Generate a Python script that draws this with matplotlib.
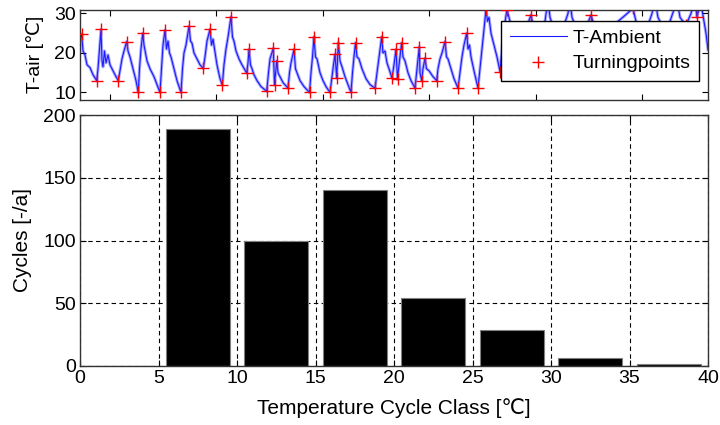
import matplotlib
matplotlib.use("Agg")
import matplotlib.pyplot as plt
import numpy as np

plt.rcParams["font.family"] = ["Liberation Sans", "DejaVu Sans"]

# --- Top panel: ambient temperature series (time in h) ---
time_h = [
    0, 1.7, 3, 5, 7, 10, 13, 16.7,
    18, 19.5, 21, 22, 23, 24.5, 26, 28, 30, 33, 36, 38.3,
    40, 42, 44, 46.7, 48, 50, 53, 56, 58.3,
    59.5, 61, 62.7, 64, 65.5, 67, 70, 74, 77, 80,
    81.5, 83, 85, 86.5, 88, 89.5, 91, 94, 97, 101,
    102.5, 104, 106, 109, 110.5, 112, 114, 117, 120, 123.3,
    125, 127, 130, 131.5, 133, 134.5, 137, 140, 142.3,
    144, 146, 148, 151, 152.5, 154, 156, 159, 162, 166.7,
    168, 169, 170.5, 172, 174, 177, 181, 186.7,
    188.5, 190, 193.3, 194.5, 196.7, 198, 200, 203, 208,
    209.5, 211, 214, 215.5, 217, 220, 224, 229.5,
    231, 232.5, 234, 235.5, 237, 240, 243, 246, 250,
    252, 253.5, 255, 256.7, 258.3, 260, 262, 265, 268, 271,
    272.5, 274, 275.5, 277, 279, 282, 286, 290, 295,
    297, 299, 301.7, 303, 305, 307, 309, 312,
    314, 316, 317.5, 319, 321.7, 323, 325, 328, 331, 335,
    337, 339.3, 340, 341.7, 343, 345, 346.5, 349, 353, 356.7,
    358, 360, 362, 365, 366.5, 368, 371, 374, 378,
    380, 382, 384, 386.7, 388, 389.5, 391, 394, 398,
    400, 402, 404, 406, 407.5, 409, 411, 414, 417, 420,
    423, 426, 427, 429, 432, 436, 440, 444, 448, 451, 453, 457, 461,
    465, 468, 470, 474, 479, 484, 488, 490, 492, 497, 502, 507, 511,
    514, 520, 526, 532, 538, 545, 553, 556, 562, 568, 572, 575, 578,
    584, 590, 594, 597, 600, 606, 611, 615, 617, 620, 622, 624, 626, 628,
]
t_air = [
    23.5, 24.8, 20.5, 19.5, 17.0, 16.3, 14.5, 13.0,
    16, 21, 26.0, 18, 16.5, 20.5, 17.5, 19.5, 17, 15.5, 14, 13.0,
    15.5, 18.5, 20.5, 22.9, 20.5, 19, 16, 13, 10.0,
    16, 21, 25.0, 22, 20, 18, 16, 14, 12, 10.0,
    16, 22, 25.8, 21, 23, 20, 19, 16, 13, 10.0,
    16, 20, 22, 26.8, 23, 22.5, 20, 18.5, 17, 16.1,
    19, 23, 26.0, 22, 23.5, 21, 17, 13.5, 11.9,
    17, 21, 24, 29.2, 24, 23, 20.5, 18.5, 17, 14.9,
    17.5, 20.9, 17, 16, 14.5, 13, 11.5, 10.3,
    15, 18.5, 21.2, 11.9, 18.0, 15, 14, 12.5, 11.1,
    15, 17.5, 20.9, 16, 15, 13, 11.5, 10.0,
    15, 19, 24.1, 19, 18.5, 15, 13, 11.5, 10.0,
    14, 17, 19.7, 13.6, 22.6, 18, 16.5, 14, 12, 10.0,
    15, 19, 22.6, 19, 18.5, 16, 13.5, 12, 11.1,
    15, 19, 24.1, 20, 20.5, 17.5, 16, 13.6,
    17, 20.9, 13.3, 17, 22.6, 19, 18, 15, 13, 11.1,
    16, 21.6, 15, 13.0, 16, 18.7, 16, 15.5, 14, 13.0,
    16, 18.5, 20, 22.9, 19, 18.5, 16, 13.5, 11.1,
    15, 19, 22, 25.0, 21, 22, 19, 15.5, 11.1,
    16, 21, 26, 31.1, 28, 29, 25, 22, 19, 15.3,
    24, 29.5, 30.9, 29, 26, 23, 22, 25, 27.5, 29.6, 27, 24, 23,
    28, 33.5, 29, 26, 24, 27, 30, 33.5, 29, 26, 24, 27, 29.6,
    27, 24, 23, 26, 28, 29.5, 31.3, 28, 25, 27, 30, 33.5, 29,
    26, 28, 31, 33.5, 29, 27, 30, 33.5, 29, 32.5, 31, 28, 25, 20.8,
]

# --- Turning points (rainflow), subset of the series ---
tp_time = [
    1.7, 16.7, 21, 38.3, 46.7, 58.3, 62.7, 80, 85, 101, 109, 123.3, 130, 142.3,
    151, 166.7, 169, 186.7, 193.3, 194.5, 196.7, 208, 214, 229.5, 234, 250,
    255, 256.7, 258.3, 271, 275.5, 295, 301.7, 312, 316, 317.5, 321.7, 335,
    339.3, 341.7, 345, 356.7, 365, 378, 386.7, 398, 406, 420, 427, 440, 451,
    461, 468, 479, 490, 502, 511, 526, 553, 562, 575, 584, 597, 606, 615, 617,
]
tp_temp = [
    24.8, 13.0, 26.0, 13.0, 22.9, 10.0, 25.0, 10.0, 25.8, 10.0, 26.8, 16.1, 26.0, 11.9,
    29.2, 14.9, 20.9, 10.3, 21.2, 11.9, 18.0, 11.1, 20.9, 10.0, 24.1, 10.0,
    19.7, 13.6, 22.6, 10.0, 22.6, 11.1, 24.1, 13.6, 20.9, 13.3, 22.6, 11.1,
    21.6, 13.0, 18.7, 13.0, 22.9, 11.1, 25.0, 11.1, 31.1, 15.3, 30.9, 22, 29.6,
    23, 33.5, 24, 33.5, 24, 29.6, 23, 31.3, 25, 33.5, 26, 33.5, 27, 33.5, 29,
]

# --- Bottom panel: cycle counts per temperature class ---
class_mid = [2.5, 7.5, 12.5, 17.5, 22.5, 27.5, 32.5, 37.5]
cycles = [0, 189, 100, 140, 54, 29, 6, 1.5]

fig = plt.figure(figsize=(7.2, 4.25), dpi=100)
ax1 = fig.add_axes([80 / 720, 1 - 100 / 425, 628 / 720, 90.5 / 425])
ax2 = fig.add_axes([80 / 720, 1 - 366 / 425, 628 / 720, 251 / 425])

# top
ax1.plot(time_h, t_air, color="#a8a8ff", lw=2.2, solid_joinstyle="round", zorder=1)
ax1.plot(time_h, t_air, color="#1a1aff", lw=0.8, label="T-Ambient", zorder=2)
ax1.plot(tp_time, tp_temp, ls="none", marker="+", ms=8, mew=1.0, color="red",
         label="Turningpoints", zorder=3)
ax1.set_xlim(0, 628)
ax1.set_ylim(8.1, 31)
ax1.set_yticks([10, 20, 30])
ax1.set_xticks(np.arange(30, 628, 106.4))
ax1.set_xticklabels([])
ax1.set_ylabel("T-air [℃]", fontsize=14, labelpad=7)
leg = ax1.legend(loc="upper right", bbox_to_anchor=(0.986, 0.876), fontsize=14,
                 frameon=True, fancybox=False, framealpha=1, edgecolor="black",
                 borderpad=0.45, labelspacing=0.4, handlelength=2.9,
                 handletextpad=0.3, borderaxespad=0)
leg.get_frame().set_linewidth(1.0)

# bottom
ax2.set_axisbelow(True)
ax2.grid(True, color="black", linestyle=(0, (4, 3)), lw=0.8)
ax2.bar(class_mid, cycles, width=4.1, color="black", edgecolor="#808080", lw=0.8)
ax2.set_xlim(0, 40)
ax2.set_ylim(0, 200)
ax2.set_xticks(np.arange(0, 41, 5))
ax2.set_yticks(np.arange(0, 201, 50))
ax2.set_xlabel("Temperature Cycle Class [℃]", fontsize=15, labelpad=8)
ax2.set_ylabel("Cycles [-/a]", fontsize=15, labelpad=8)

for ax in (ax1, ax2):
    ax.tick_params(direction="in", top=True, right=True, length=4, width=0.8,
                   labelsize=14, pad=3)
    for s in ax.spines.values():
        s.set_linewidth(1.0)
        s.set_color("#333333")

fig.savefig("out.png", dpi=100)
